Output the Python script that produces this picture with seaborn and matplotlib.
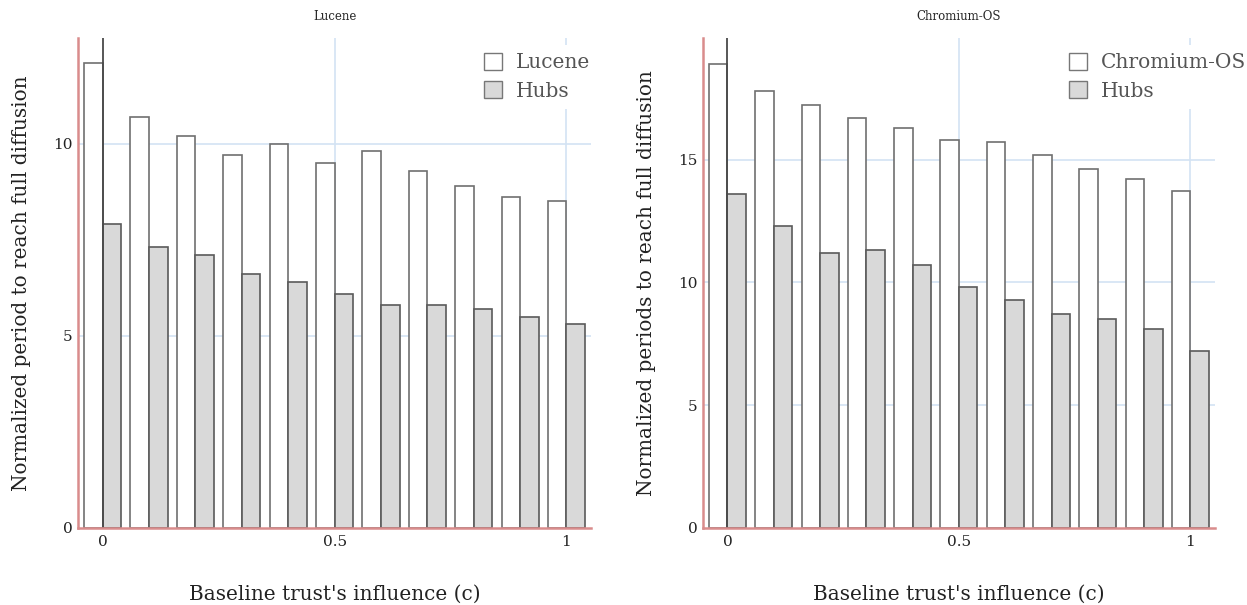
import numpy as np
import pandas as pd
import matplotlib.pyplot as plt
import seaborn as sns
from matplotlib.patches import Patch

sns.set_theme(style="white")
plt.rcParams["font.family"] = ["DejaVu Serif"]

# Datos
c_values = [0.0, 0.1, 0.2, 0.3, 0.4, 0.5, 0.6, 0.7, 0.8, 0.9, 1.0]
lucene = [12.1, 10.7, 10.2, 9.7, 10.0, 9.5, 9.8, 9.3, 8.9, 8.6, 8.5]
lucene_hubs = [7.9, 7.3, 7.1, 6.6, 6.4, 6.1, 5.8, 5.8, 5.7, 5.5, 5.3]
chromium = [18.9, 17.8, 17.2, 16.7, 16.3, 15.8, 15.7, 15.2, 14.6, 14.2, 13.7]
chromium_hubs = [13.6, 12.3, 11.2, 11.3, 10.7, 9.8, 9.3, 8.7, 8.5, 8.1, 7.2]

panels = [
    ("Lucene", lucene, lucene_hubs, "Normalized period to reach full diffusion", [0, 5, 10], 12.75, 0.772),
    ("Chromium-OS", chromium, chromium_hubs, "Normalized periods to reach full diffusion", [0, 5, 10, 15], 19.95, 0.696),
]
x_ticks = [0, 0.5, 1]

fig = plt.figure(figsize=(12.47, 6.05), dpi=100)
rects = [[0.0626, 0.1273, 0.4114, 0.81], [0.5637, 0.1273, 0.4106, 0.81]]

spine_col = "#d98c8c"
grid_col = "#d3e3f3"

for rect, (name, main, hubs, ylab, yticks, ymax, leg_x) in zip(rects, panels):
    ax = fig.add_axes(rect)
    df = pd.DataFrame({
        "c": c_values * 2,
        "value": main + hubs,
        "serie": [name] * len(c_values) + ["Hubs"] * len(c_values),
    })
    ax.set_axisbelow(True)
    for t in x_ticks[1:]:
        ax.axvline(t, color=grid_col, lw=1.2, zorder=0)
    for t in yticks[1:]:
        ax.axhline(t, color=grid_col, lw=1.2, zorder=0)
    sns.barplot(
        data=df, x="c", y="value", hue="serie", native_scale=True,
        hue_order=[name, "Hubs"], palette={name: "white", "Hubs": "#d9d9d9"},
        edgecolor="#5a5a5a", linewidth=1.2, legend=False, errorbar=None, ax=ax,
    )
    # borde mas claro para las barras blancas
    for p in ax.patches[:len(c_values)]:
        p.set_edgecolor("#707070")
    ax.axvline(0, color="#4a4a4a", lw=1.3, zorder=1)
    ax.set_xlim(-0.053, 1.053)
    ax.set_ylim(0, ymax)
    ax.set_xticks(x_ticks)
    ax.set_xticklabels(["0", "0.5", "1"])
    ax.set_yticks(yticks)
    ax.tick_params(axis="both", length=0, labelsize=11, colors="#222222")
    ax.tick_params(axis="x", pad=5)
    ax.tick_params(axis="y", pad=4)
    for s in ["top", "right"]:
        ax.spines[s].set_visible(False)
    for s in ["left", "bottom"]:
        ax.spines[s].set_color(spine_col)
        ax.spines[s].set_linewidth(1.8)
    ax.set_title(name, fontsize=8.5, pad=13)
    ax.set_xlabel("Baseline trust's influence (c)", fontsize=14.4, labelpad=26, color="#222222")
    ax.set_ylabel(ylab, fontsize=14.4, labelpad=16, color="#222222")
    handles = [
        Patch(facecolor="white", edgecolor="#777777", label=name),
        Patch(facecolor="#d9d9d9", edgecolor="#777777", label="Hubs"),
    ]
    leg = ax.legend(handles=handles, loc="upper left", bbox_to_anchor=(leg_x, 0.99),
                    fontsize=14.5, handlelength=0.9, handleheight=0.9, handletextpad=0.65,
                    frameon=True, facecolor="white", edgecolor="none", framealpha=1,
                    labelspacing=0.45, borderaxespad=0.1)
    for txt in leg.get_texts():
        txt.set_color("#555555")

plt.savefig("out.png", dpi=100)
